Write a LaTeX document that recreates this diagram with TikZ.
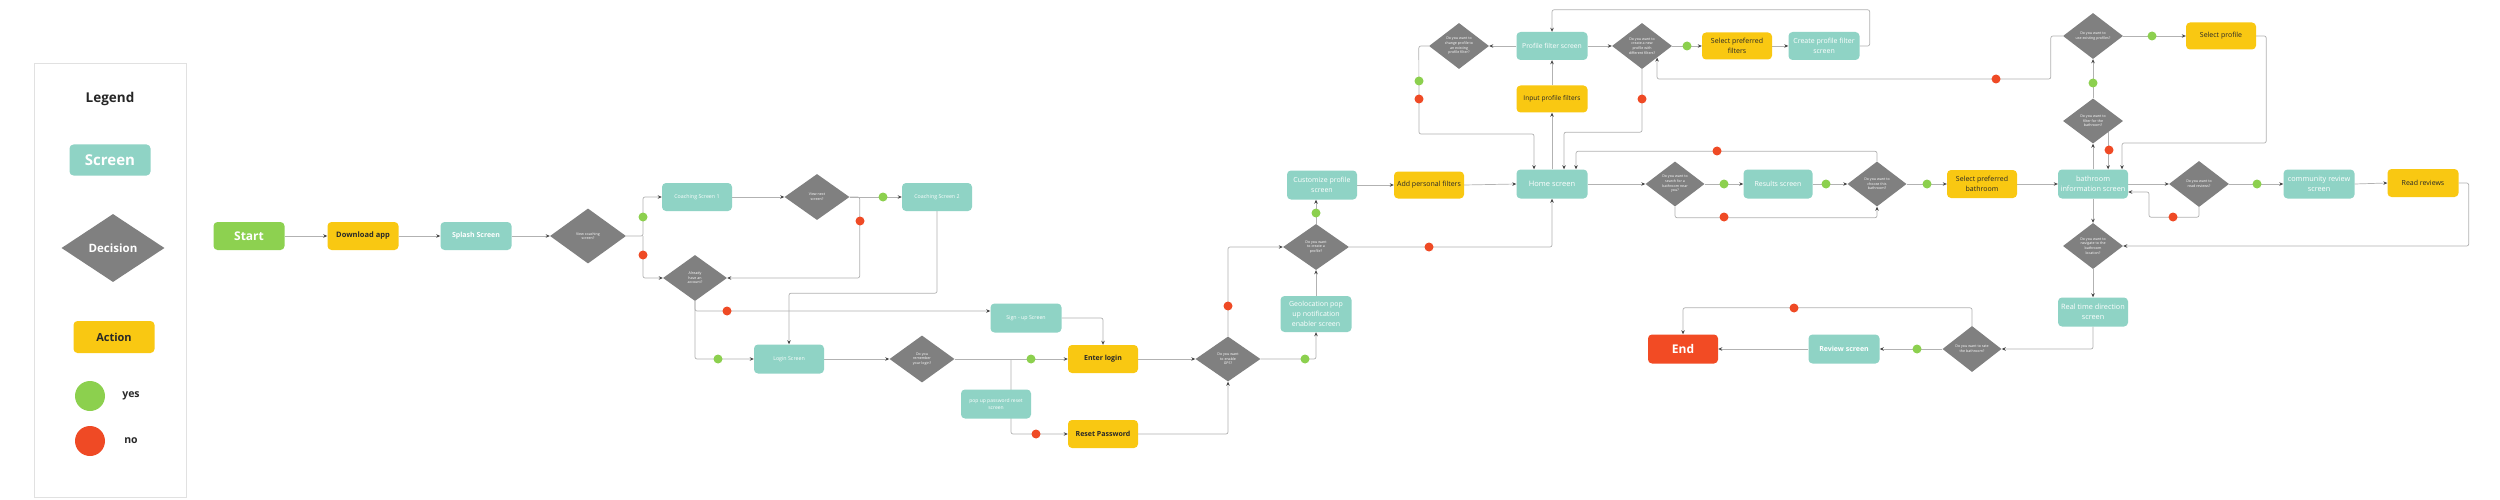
\documentclass[tikz,border=0pt]{standalone}
\usepackage{fontspec}
\setmainfont{Open Sans}
\usetikzlibrary{shapes.geometric,arrows.meta,calc}
\pgfdeclarelayer{bg}
\pgfsetlayers{bg,main}
\definecolor{scr}{RGB}{143,211,197}
\definecolor{act}{RGB}{249,200,18}
\definecolor{dec}{RGB}{128,128,128}
\definecolor{yesc}{RGB}{140,208,78}
\definecolor{noc}{RGB}{239,74,37}
\definecolor{startc}{RGB}{141,209,80}
\definecolor{endc}{RGB}{242,75,36}
\definecolor{txt}{RGB}{40,40,40}
\definecolor{ln}{RGB}{178,178,178}
\definecolor{arr}{RGB}{70,70,70}
\definecolor{legc}{RGB}{225,225,225}
\tikzset{
 box/.style={rounded corners=4pt, minimum width=71pt, minimum height=29pt, inner sep=1pt, align=center},
 screen/.style={box, fill=scr, text=white, font=\fontsize{7}{8.8}\selectfont},
 action/.style={box, fill=act, text=txt, font=\fontsize{7}{8.8}\selectfont},
 decision/.style={diamond, fill=dec, text=white, minimum width=60pt, minimum height=46pt, inner sep=0pt, align=center, font=\fontsize{3.6}{4.6}\selectfont},
 ydot/.style={circle, fill=yesc, minimum size=9pt, inner sep=0pt},
 ndot/.style={circle, fill=noc, minimum size=9pt, inner sep=0pt},
 conn/.style={draw=ln, line width=0.7pt, rounded corners=2pt, -{Stealth[length=4pt,width=3.5pt,color=arr]}},
 plain/.style={draw=ln, line width=0.7pt, rounded corners=2pt},
 bld/.style={font=\bfseries\fontsize{7}{8.8}\selectfont},
 small/.style={font=\fontsize{5.3}{7}\selectfont},
}
\begin{document}
\begin{tikzpicture}[x=1pt,y=-1pt]
\begin{pgfonlayer}{bg}
\fill[white] (0,0) rectangle (2500,500);
\end{pgfonlayer}
\useasboundingbox (0,0) rectangle (2500,500);

% Legend
\node[draw=legc, line width=0.8pt, minimum width=152pt, minimum height=434pt, anchor=north west, inner sep=0pt] (leg) at (34,63) {};
\node[text=black!85, font=\bfseries\fontsize{13.5}{16}\selectfont] (legT) at (110,99) {Legend};
\node[screen, minimum width=81pt, minimum height=31pt, font=\bfseries\fontsize{15}{17}\selectfont] (legS) at (110,160) {Screen};
\node[decision, minimum width=103pt, minimum height=68pt, font=\bfseries\fontsize{11.5}{13}\selectfont] (legD) at (113,248) {Decision};
\node[action, minimum width=81pt, minimum height=32pt, font=\bfseries\fontsize{11}{13}\selectfont] (legA) at (114,337) {Action};
\node[ydot, minimum size=30pt] (legY) at (90,396) {};
\node[text=txt, font=\bfseries\fontsize{10.5}{12}\selectfont] (legYt) at (131,396) {yes};
\node[ndot, minimum size=30pt] (legN) at (90,441) {};
\node[text=txt, font=\bfseries\fontsize{10.5}{12}\selectfont] (legNt) at (131,441) {no};

% Main nodes
\node[box, fill=startc, text=white, minimum height=28pt, font=\bfseries\fontsize{12}{14}\selectfont] (start) at (249,236) {Start};
\node[action, bld, minimum height=28pt, font=\bfseries\fontsize{7.5}{9}\selectfont] (dl) at (363,236) {Download app};
\node[screen, bld, minimum height=28pt] (splash) at (476,236) {Splash Screen};
\node[decision, minimum width=76pt, minimum height=55pt] (dcoach) at (588,236) {View coaching\\screen?};
\node[screen, small, minimum width=70pt, minimum height=28pt] (cs1) at (697,197) {Coaching Screen 1};
\node[decision, minimum width=65pt] (dnext) at (817,197) {View next\\screen?};
\node[screen, small, minimum width=70pt, minimum height=28pt] (cs2) at (937,197) {Coaching Screen 2};
\node[decision, minimum width=64pt] (dacc) at (695,278) {Already\\have an\\account?};
\node[screen, small, minimum width=70pt] (login) at (789,359) {Login Screen};
\node[decision, minimum width=65pt, minimum height=47pt] (drem) at (922,359) {Do you\\remember\\your login?};
\node[screen, small] (signup) at (1026,318) {Sign - up Screen};
\node[screen, minimum width=70pt, font=\fontsize{5}{7}\selectfont] (popup) at (996,404) {pop up password reset\\screen};
\node[action, bld, minimum width=70pt, minimum height=28pt] (enter) at (1103,359) {Enter login};
\node[action, bld, minimum width=70pt, minimum height=28pt] (reset) at (1103,434) {Reset Password};
\node[decision, minimum width=65pt, minimum height=45pt] (dgps) at (1228,359) {Do you want\\to enable\\GPS?};
\node[screen, minimum height=36pt, font=\fontsize{7}{10}\selectfont] (geo) at (1316,314) {Geolocation pop\\up notification\\enabler screen};
\node[decision, minimum width=66pt] (dprof) at (1316,247) {Do you want\\to create a\\profile?};
\node[screen, minimum width=70pt, font=\fontsize{7}{9.5}\selectfont] (cust) at (1322,185) {Customize profile\\screen};
\node[action, minimum width=70pt, minimum height=27pt] (addf) at (1429,185) {Add personal filters};
\node[screen, font=\fontsize{7.5}{9}\selectfont] (home) at (1552,184) {Home screen};
\node[action, minimum height=27pt, font=\fontsize{6.6}{8}\selectfont] (input) at (1552,99) {Input profile filters};
\node[screen, minimum height=28pt, font=\fontsize{6.8}{8}\selectfont] (pfs) at (1552,46) {Profile filter screen};
\node[decision] (dpl) at (1459,46) {Do you want to\\change profile to\\an existing\\profile filter?};
\node[decision] (dpr) at (1642,46) {Do you want to\\create a new\\profile with\\different filters?};
\node[action, minimum width=70pt, minimum height=27pt, font=\fontsize{7}{9.5}\selectfont] (spf) at (1737,46) {Select preferred\\filters};
\node[screen, minimum height=28pt, font=\fontsize{7}{9.5}\selectfont] (cpf) at (1824,46) {Create profile filter\\screen};
\node[decision, minimum width=59pt, minimum height=45pt] (dsearch) at (1675,184) {Do you want to\\search for a\\bathroom near\\you?};
\node[screen, minimum width=69pt] (results) at (1778,184) {Results screen};
\node[decision, minimum width=59pt, minimum height=45pt] (dchoose) at (1877,184) {Do you want to\\choose this\\bathroom?};
\node[action, minimum width=70pt, minimum height=28pt, font=\fontsize{7}{9.5}\selectfont] (spb) at (1982,184) {Select preferred\\bathroom};
\node[screen, minimum width=70pt, font=\fontsize{7.3}{9.5}\selectfont] (binfo) at (2093,184) {bathroom\\information screen};
\node[decision] (dexist) at (2093,36) {Do you want to\\use existing profiles?};
\node[action, minimum width=70pt, minimum height=27pt] (sprof) at (2221,36) {Select profile};
\node[decision, minimum height=45pt] (dfilter) at (2093,121) {Do you want to\\filter for the\\bathroom?};
\node[decision] (dread) at (2199,184) {Do you want to\\read reviews?};
\node[screen, font=\fontsize{7.3}{9.5}\selectfont] (comm) at (2319,184) {community review\\screen};
\node[action, minimum height=28pt] (readr) at (2423,183) {Read reviews};
\node[decision] (dnav) at (2093,246) {Do you want to\\navigate to the\\bathroom\\location?};
\node[screen, minimum width=70pt, font=\fontsize{7.3}{9.5}\selectfont] (rtd) at (2093,312) {Real time direction\\screen};
\node[decision, minimum width=59pt] (drate) at (1972,349) {Do you want to rate\\the bathroom?};
\node[screen, bld] (review) at (1844,349) {Review screen};
\node[box, fill=endc, text=white, minimum width=70pt, font=\bfseries\fontsize{12}{14}\selectfont] (endn) at (1683,349) {End};

% junction coordinates
\coordinate (j1) at (643,236);
\coordinate (j2) at (1011,359);
\coordinate (c26) at (1419,134);
\coordinate (c32) at (1657,79);
\coordinate (c34) at (2122,143);
\coordinate (c41) at (2149,192);

\begin{pgfonlayer}{bg}
\draw[conn] (start.east) -- (dl.west);
\draw[conn] (dl.east) -- (splash.west);
\draw[conn] (splash.east) -- (dcoach.west);
\draw[conn] (dcoach.east) -- (j1) |- (cs1.west);
\draw[conn] (j1) |- (dacc.west);
\draw[conn] (cs1.east) -- (dnext.west);
\draw[conn] (dnext.east) -- (cs2.west);
\draw[conn] (dnext.east) -- ++(10,0) |- (dacc.east);
\draw[conn] (cs2.south) -- ++(0,82) -| (login.north);
\draw[conn] (dacc.south) |- ([yshift=7pt]signup.west);
\draw[conn] (dacc.south) |- (login.west);
\draw[conn] (login.east) -- (drem.west);
\draw[conn] (drem.east) -- (enter.west);
\draw[conn] (j2) |- (reset.west);
\draw[conn] (signup.east) -| (enter.north);
\draw[conn] (enter.east) -- (dgps.west);
\draw[conn] (reset.east) -| (dgps.south);
\draw[conn] (dgps.north) |- (dprof.west);
\draw[conn] (dgps.east) -| (geo.south);
\draw[conn] (geo.north) -- (dprof.south);
\draw[conn] (dprof.north) -- (dprof.north |- cust.south);
\draw[conn] (cust.east) -- (addf.west);
\draw[conn] (addf.east) -- (home.west);
\draw[conn] (dprof.east) -| (home.south);
\draw[conn] (home.north) -- (input.south);
\draw[conn] (input.north) -- (pfs.south);
\draw[conn] (pfs.west) -- (dpl.east);
\draw[conn] (dpl.west) -- ++(-10,0) -- (c26) -| ([xshift=-18pt]home.north);
\draw[conn] (pfs.east) -- (dpr.west);
\draw[conn] (dpr.east) -- (spf.west);
\draw[conn] (spf.east) -- (cpf.west);
\draw[conn] (cpf.east) -- ++(10,0) |- ([yshift=22pt]pfs.north) -- (pfs.north);
\draw[conn] (dpr.south) -- ++(0,63) -| ([xshift=12pt]home.north);
\draw[conn] (dexist.west) -- ++(-12,0) |- (c32) -- (dpr.south east);
\draw[conn] (dfilter.north) -- (dexist.south);
\draw[conn] (dexist.east) -- (sprof.west);
\draw[conn] (sprof.east) -- ++(10,0) |- (c34) -- ([xshift=29pt]binfo.north);
\draw[conn] (binfo.north) -- (dfilter.south);
\draw[conn] (dfilter.south east) -- (dfilter.south east |- binfo.north);
\draw[conn] (binfo.east) -- (dread.west);
\draw[conn] (dread.east) -- (comm.west);
\draw[conn] (comm.east) -- (readr.west);
\draw[conn] (readr.east) -- ++(10,0) |- (dnav.east);
\draw[conn] (dread.south) -- ++(0,10) -| (c41) -- ([yshift=-8pt]binfo.east);
\draw[conn] (binfo.south) -- (dnav.north);
\draw[conn] (dnav.south) -- (rtd.north);
\draw[conn] (rtd.south) |- (drate.east);
\draw[conn] (drate.west) -- (review.east);
\draw[conn] (review.west) -- (endn.east);
\draw[conn] (drate.north) -- ++(0,-18) -| (endn.north);
\draw[conn] (home.east) -- (dsearch.west);
\draw[conn] (dsearch.east) -- (results.west);
\draw[conn] (results.east) -- (dchoose.west);
\draw[conn] (dchoose.east) -- (spb.west);
\draw[conn] (spb.east) -- (binfo.west);
\draw[conn] (dsearch.south) -- ++(0,11) -| (dchoose.south);
\draw[conn] (dchoose.north) -- ++(0,-10) -| ([xshift=24pt]home.north);
\end{pgfonlayer}

% yes / no dots
\node[ydot] (y1) at (643,217) {};
\node[ndot] (n1) at (643,255) {};
\node[ydot] (y2) at (883,197) {};
\node[ndot] (n2) at (860,221) {};
\node[ndot] (n3) at (727,311) {};
\node[ydot] (y3) at (718,359) {};
\node[ydot] (y4) at (1031,359) {};
\node[ndot] (n4) at (1036,434) {};
\node[ndot] (n5) at (1228,306) {};
\node[ydot] (y5) at (1305,359) {};
\node[ydot] (y6) at (1316,213) {};
\node[ndot] (n6) at (1429,247) {};
\node[ydot] (y7) at (1419,81) {};
\node[ndot] (n7) at (1419,99) {};
\node[ydot] (y8) at (1687,46) {};
\node[ndot] (n8) at (1642,99) {};
\node[ndot] (n9) at (1996,79) {};
\node[ydot] (y9) at (1724,184) {};
\node[ydot] (y10) at (1826,184) {};
\node[ydot] (y11) at (1927,184) {};
\node[ndot] (n10) at (1724,217) {};
\node[ndot] (n11) at (1717,151) {};
\node[ydot] (y12) at (2093,83) {};
\node[ydot] (y13) at (2152,36) {};
\node[ndot] (n12) at (2109,150) {};
\node[ydot] (y14) at (2257,184) {};
\node[ndot] (n13) at (2173,217) {};
\node[ydot] (y15) at (1917,349) {};
\node[ndot] (n14) at (1794,308) {};
\end{tikzpicture}
\end{document}
